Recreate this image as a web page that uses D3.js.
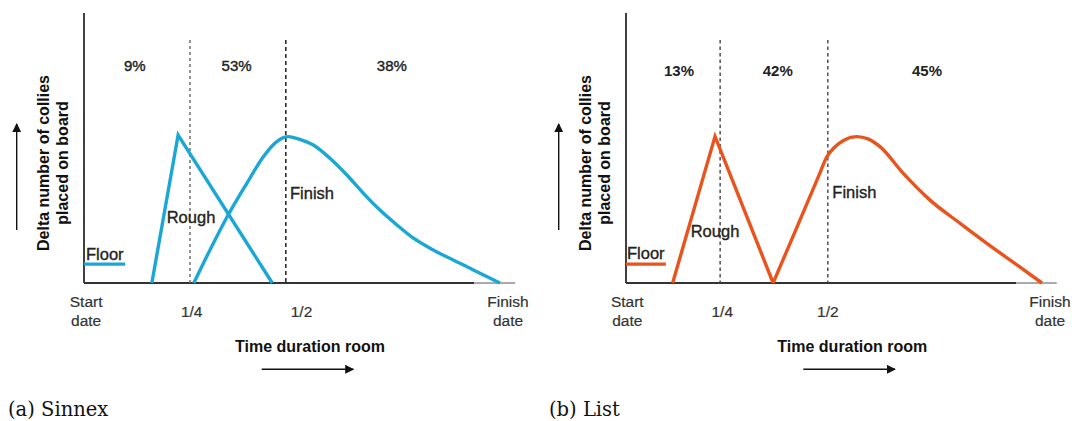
<!DOCTYPE html>
<html>
<head>
<meta charset="utf-8">
<script src="https://cdn.jsdelivr.net/npm/d3@7"></script>
<style>
  html, body { margin: 0; padding: 0; background: #fff; }
  svg { display: block; }
  text { font-family: "Liberation Sans", Arial, sans-serif; }
</style>
</head>
<body>
<svg id="chart" width="1072" height="421"></svg>
<script>
// ---------------- DATA ----------------
// x: fraction of the time duration room (0 = start date, 1 = finish date)
// y: relative delta number of collies placed on board (0..100)
const panelTitles = ["(a) Sinnex", "(b) List"];
const tickLabels = [["Start", "date"], ["1/4"], ["1/2"], ["Finish", "date"]];
const phaseNames = ["Floor", "Rough", "Finish"];
const yAxisTitle = ["Delta number of collies", "placed on board"];
const xAxisTitle = "Time duration room";

// (a) Sinnex
const sinnexShares = ["9%", "53%", "38%"];
const sinnexFloor = [[0.0, 7.0], [0.097, 7.0]];
const sinnexRough = [[0.160, 0], [0.222, 54.8], [0.444, 0]];
const sinnexFinish = [[0.259, 0], [0.340, 25.2], [0.384, 36.9], [0.423, 46.8], [0.454, 52.3],
  [0.482, 54.2], [0.505, 53.4], [0.541, 51.1], [0.580, 46.2], [0.620, 40.0], [0.659, 33.2],
  [0.698, 27.0], [0.738, 21.5], [0.777, 16.6], [0.816, 12.9], [0.855, 9.7], [0.895, 6.7],
  [0.934, 3.6], [0.981, 0]];
const sinnexMarkers = [0.25, 0.476];

// (b) List
const listShares = ["13%", "42%", "45%"];
const listFloor = [[0.0, 7.0], [0.094, 7.0]];
const listRough = [[0.110, 0], [0.210, 54.3], [0.347, 0]];
const listFinish = [[0.347, 0], [0.400, 19.5], [0.458, 41.0], [0.473, 46.6], [0.492, 50.3],
  [0.515, 53.0], [0.544, 54.2], [0.572, 53.3], [0.599, 50.5], [0.654, 40.6], [0.717, 30.7],
  [0.788, 22.1], [0.851, 14.7], [0.922, 6.7], [0.981, 0]];
const listMarkers = [0.222, 0.476];

// ---------------- LAYOUT ----------------
const panels = [
  {
    title: panelTitles[0], color: "#1ba7d6",
    floor: sinnexFloor, rough: sinnexRough, finish: sinnexFinish,
    markers: sinnexMarkers, shares: sinnexShares,
    markerStyles: [{stroke: "#666", dash: "3,3"}, {stroke: "#111", dash: "4,3"}],
    x0: 84, x1: 508, axisEnd: 1.017, axisDarkEnd: 0.92,
    tickPos: [0.005, 0.254, 0.513, 1.0],
    sharePos: [0.120, 0.360, 0.726], shareY: 71.3, shareWeight: "normal",
    roughLabel: [166.7, 223], finishLabel: [290, 199], floorLabel: [86, 260],
    titleCx: 310, arrowX: [261.7, 353.3],
    yTitleX: [43.3, 62.7], yArrowX: 16.7,
    capX: 8
  },
  {
    title: panelTitles[1], color: "#e8541c",
    floor: listFloor, rough: listRough, finish: listFinish,
    markers: listMarkers, shares: listShares,
    markerStyles: [{stroke: "#444", dash: "3.5,3"}, {stroke: "#444", dash: "3.5,3"}],
    x0: 626, x1: 1050, axisEnd: 1.016, axisDarkEnd: 0.92,
    tickPos: [0.003, 0.227, 0.476, 1.0],
    sharePos: [0.125, 0.358, 0.710], shareY: 76, shareWeight: "bold",
    roughLabel: [690.7, 236.7], finishLabel: [832.3, 198], floorLabel: [627, 259],
    titleCx: 852.3, arrowX: [803.3, 895],
    yTitleX: [585.3, 604.7], yArrowX: 558.7,
    capX: 549
  }
];

const svg = d3.select("#chart");
const defs = svg.append("defs");
defs.append("marker")
  .attr("id", "arrowhead")
  .attr("viewBox", "0 0 10 10")
  .attr("refX", 9).attr("refY", 5)
  .attr("markerWidth", 9).attr("markerHeight", 9)
  .attr("markerUnits", "userSpaceOnUse")
  .attr("orient", "auto")
  .append("path").attr("d", "M0,0 L10,5 L0,10 Z").attr("fill", "#111");

const yTop = 13, yBase = 283;

panels.forEach(p => {
  const x = d3.scaleLinear().domain([0, 1]).range([p.x0, p.x1]);
  const y = d3.scaleLinear().domain([0, 100]).range([yBase, yTop]);
  const g = svg.append("g");

  // y axis line
  g.append("line")
    .attr("x1", x(0)).attr("x2", x(0))
    .attr("y1", y(100)).attr("y2", y(0))
    .attr("stroke", "#111").attr("stroke-width", 1.6);

  // x axis line (dark part, then faded tail)
  g.append("line")
    .attr("x1", x(0)).attr("x2", x(p.axisDarkEnd))
    .attr("y1", y(0)).attr("y2", y(0))
    .attr("stroke", "#333").attr("stroke-width", 2);
  g.append("line")
    .attr("x1", x(p.axisDarkEnd)).attr("x2", x(p.axisEnd))
    .attr("y1", y(0)).attr("y2", y(0))
    .attr("stroke", "#aaa").attr("stroke-width", 2);

  // marker lines (1/4, 1/2)
  p.markers.forEach((m, i) => {
    g.append("line")
      .attr("x1", x(m)).attr("x2", x(m))
      .attr("y1", y(90)).attr("y2", y(0))
      .attr("stroke", p.markerStyles[i].stroke)
      .attr("stroke-width", 1.4)
      .attr("stroke-dasharray", p.markerStyles[i].dash);
  });

  // share labels
  p.shares.forEach((s, i) => {
    g.append("text")
      .attr("x", x(p.sharePos[i])).attr("y", p.shareY)
      .attr("text-anchor", "middle")
      .attr("font-size", 15).attr("font-weight", p.shareWeight)
      .attr("fill", "#222")
      .attr("stroke", p.shareWeight === "normal" ? "#222" : "none")
      .attr("stroke-width", 0.4)
      .text(s);
  });

  // curves
  const lin = d3.line().x(d => x(d[0])).y(d => y(d[1]));
  const smooth = d3.line().x(d => x(d[0])).y(d => y(d[1])).curve(d3.curveMonotoneX);
  [[p.floor, lin], [p.rough, lin], [p.finish, smooth]].forEach(([data, gen]) => {
    g.append("path")
      .attr("d", gen(data))
      .attr("fill", "none")
      .attr("stroke", p.color)
      .attr("stroke-width", 3.4)
      .attr("stroke-linejoin", "miter")
      .attr("stroke-linecap", "butt");
  });

  // phase labels
  const phaseLabelPos = [p.floorLabel, p.roughLabel, p.finishLabel];
  phaseNames.forEach((n, i) => {
    g.append("text")
      .attr("x", phaseLabelPos[i][0]).attr("y", phaseLabelPos[i][1])
      .attr("font-size", 16.5).attr("fill", "#222")
      .attr("stroke", "#222").attr("stroke-width", 0.35)
      .text(n);
  });

  // tick labels
  tickLabels.forEach((lines, i) => {
    const t = g.append("text")
      .attr("text-anchor", "middle")
      .attr("font-size", 15.5).attr("fill", "#333")
      .attr("stroke", "#333").attr("stroke-width", 0.2);
    if (lines.length === 2) {
      lines.forEach((ln, j) => {
        t.append("tspan").attr("x", x(p.tickPos[i])).attr("y", 307 + j * 19).text(ln);
      });
    } else {
      t.attr("x", x(p.tickPos[i])).attr("y", 317).text(lines[0]);
    }
  });

  // x axis title and arrow
  g.append("text")
    .attr("x", p.titleCx).attr("y", 352)
    .attr("text-anchor", "middle")
    .attr("font-size", 16).attr("font-weight", "bold").attr("fill", "#111")
    .text(xAxisTitle);
  g.append("line")
    .attr("x1", p.arrowX[0]).attr("x2", p.arrowX[1])
    .attr("y1", 369.3).attr("y2", 369.3)
    .attr("stroke", "#111").attr("stroke-width", 1.4)
    .attr("marker-end", "url(#arrowhead)");

  // y axis title and arrow
  yAxisTitle.forEach((ln, j) => {
    g.append("text")
      .attr("transform", `translate(${p.yTitleX[j]},163) rotate(-90)`)
      .attr("text-anchor", "middle")
      .attr("dominant-baseline", "central")
      .attr("font-size", 16).attr("font-weight", "bold").attr("fill", "#111")
      .text(ln);
  });
  g.append("line")
    .attr("x1", p.yArrowX).attr("x2", p.yArrowX)
    .attr("y1", 230).attr("y2", 124)
    .attr("stroke", "#111").attr("stroke-width", 1.4)
    .attr("marker-end", "url(#arrowhead)");

  // caption
  g.append("text")
    .attr("x", p.capX).attr("y", 416)
    .attr("font-size", 19.5).attr("fill", "#111")
    .style("font-family", "'DejaVu Serif', serif")
    .text(p.title);
});
</script>
</body>
</html>
